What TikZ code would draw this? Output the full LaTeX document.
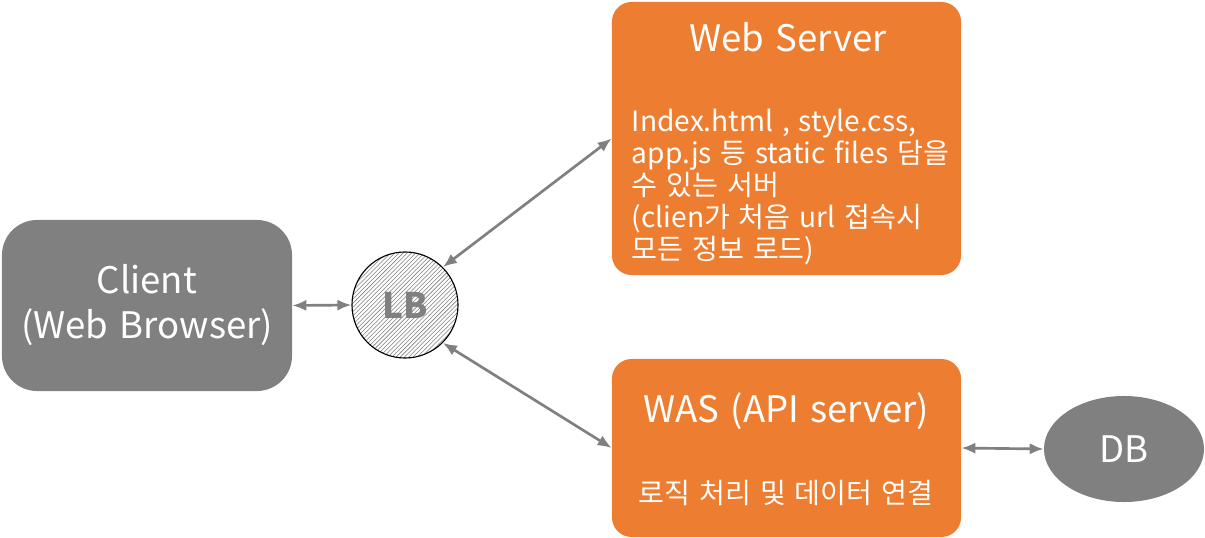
\documentclass[tikz,border=0pt]{standalone}
\usepackage{fontspec}
\setmainfont[WordSpace=1.4]{Noto Sans CJK KR}
\usetikzlibrary{arrows.meta,patterns,shapes.geometric}
\definecolor{srvorange}{RGB}{237,125,49}
\definecolor{boxgray}{RGB}{128,128,128}
\begin{document}
\begin{tikzpicture}[x=0.025cm,y=-0.025cm]
\tikzstyle{graybox}=[rectangle,rounded corners=25,fill=boxgray,text=white,minimum width=7.25cm,minimum height=4.275cm,align=center,font=\fontsize{26}{32}\selectfont]
\tikzstyle{srvbox}=[rectangle,rounded corners=14,fill=srvorange,minimum width=8.725cm]
\tikzstyle{title}=[text=white,font=\fontsize{26}{30}\selectfont]
\tikzstyle{body}=[text=white,align=left,font=\fontsize{20}{22.7}\selectfont]
\tikzstyle{link}=[draw=boxgray,line width=1.9pt,{Latex[length=10pt,width=8pt]}-{Latex[length=10pt,width=8pt]}]
\useasboundingbox (0,0) rectangle (1205,538);
\node [graybox] (client) at (147,305.5) {Client\\(Web Browser)};
\node [circle,draw=black,thick,pattern=north east lines,pattern color=boxgray,minimum size=2.65cm] (lb) at (405,305) {};
\node [text=boxgray,font=\fontsize{25}{28}\selectfont\bfseries] (lbtext) at (405,305) {LB};
\node [srvbox,minimum height=6.825cm] (web) at (786.5,138.5) {};
\node [title] (webtitle) at (788,37) {Web Server};
\node [body,anchor=north west] (webbody) at (627,104) {Index.html , style.css,\\app.js 등 static files 담을\\수 있는 서버\\(clien가 처음 url 접속시\\모든 정보 로드)};
\node [srvbox,minimum height=4.45cm] (was) at (786.5,448) {};
\node [title] (wastitle) at (786,411) {WAS (API server)};
\node [body] (wasbody) at (786,493) {로직 처리 및 데이터 연결};
\node [ellipse,fill=boxgray,text=white,minimum width=4cm,minimum height=2.65cm,font=\fontsize{26}{30}\selectfont] (db) at (1124,449) {DB};
\draw [link] (client.east) -- (lb.west);
\draw [link] (lb.north east) -- (web.west);
\draw [link] (lb.south east) -- (was.west);
\draw [link] (was.east) -- (db.west);
\end{tikzpicture}
\end{document}
